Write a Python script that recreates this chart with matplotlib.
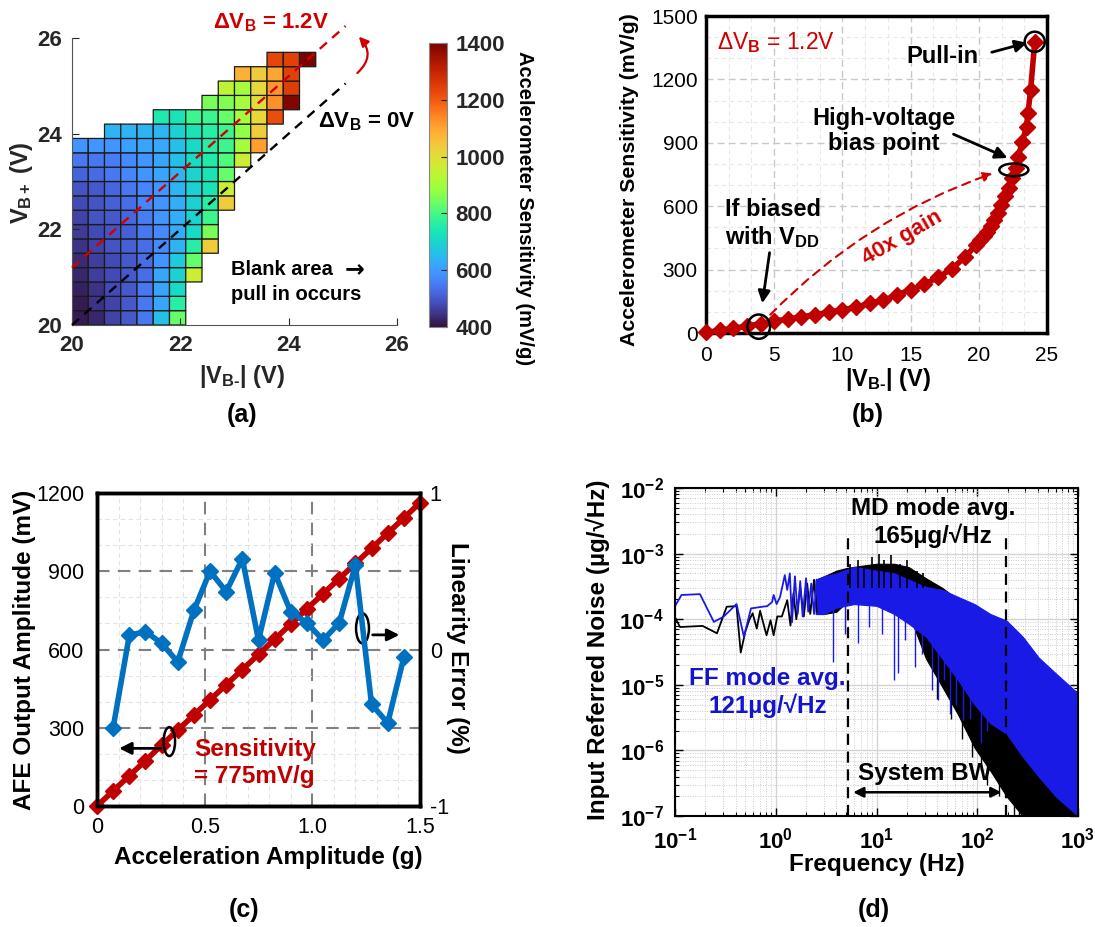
import matplotlib
matplotlib.use("Agg")
import matplotlib.pyplot as plt
import numpy as np
from matplotlib.patches import Ellipse, FancyArrowPatch
from matplotlib.ticker import LogLocator, MultipleLocator, NullFormatter

plt.rcParams["font.family"] = ["Liberation Sans", "DejaVu Sans"]
plt.rcParams["mathtext.fontset"] = "custom"
plt.rcParams["mathtext.rm"] = "Liberation Sans"
plt.rcParams["mathtext.bf"] = "Liberation Sans:bold"
plt.rcParams["mathtext.it"] = "Liberation Sans:italic"

N = np.nan

# ---- (a) sensitivity map, 0.3 V cells ----
VBN_EDGES = [20.0, 20.3, 20.6, 20.9, 21.2, 21.5, 21.8, 22.1, 22.4, 22.7,
             23.0, 23.3, 23.6, 23.9, 24.2, 24.5]
VBP_EDGES = [20.0, 20.3, 20.6, 20.9, 21.2, 21.5, 21.8, 22.1, 22.4, 22.7,
             23.0, 23.3, 23.6, 23.9, 24.2, 24.5, 24.8, 25.1, 25.4, 25.7]
SENS_MAP = [
    [415, 430, 470, 500, 545, 660, 830, N, N, N, N, N, N, N, N],
    [415, 445, 470, 500, 545, 615, 760, N, N, N, N, N, N, N, N],
    [420, 445, 480, 500, 545, 615, 710, N, N, N, N, N, N, N, N],
    [430, 460, 480, 500, 530, 615, 690, 960, N, N, N, N, N, N, N],
    [435, 460, 480, 500, 530, 590, 680, 830, N, N, N, N, N, N, N],
    [445, 470, 490, 510, 530, 575, 640, 760, 1030, N, N, N, N, N, N],
    [455, 480, 490, 510, 545, 575, 630, 710, 850, N, N, N, N, N, N],
    [470, 490, 500, 520, 555, 590, 630, 700, 790, N, N, N, N, N, N],
    [480, 490, 510, 530, 565, 590, 630, 690, 760, 1030, N, N, N, N, N],
    [490, 500, 520, 545, 565, 590, 640, 690, 735, 960, N, N, N, N, N],
    [515, 525, 545, 565, 590, 615, 640, 700, 735, 830, N, N, N, N, N],
    [545, 545, 555, 575, 590, 615, 660, 710, 750, 810, 960, N, N, N, N],
    [590, 590, 590, 610, 615, 620, 660, 710, 760, 790, 900, 1110, N, N, N],
    [N, N, 640, 640, 640, 645, 690, 735, 760, 790, 880, 1030, N, N, N],
    [N, N, N, N, N, 745, 735, 790, 790, 830, 900, 1010, 1220, N, N],
    [N, N, N, N, N, N, N, N, 850, 860, 900, 1000, 1130, 1390, N],
    [N, N, N, N, N, N, N, N, N, 940, 900, 1010, 1120, 1250, N],
    [N, N, N, N, N, N, N, N, N, N, 1080, 1040, 1100, 1240, N],
    [N, N, N, N, N, N, N, N, N, N, N, N, 1230, 1240, 1400],
]
DVB_OFFSETS = [0.0, 1.2]
DIAG_X = [20.0, 25.05]
CBAR_TICKS = [400, 600, 800, 1000, 1200, 1400]

# ---- (b) sensitivity vs |VB-| ----
VBN_B = [0, 1, 2, 3, 4, 5, 6, 7, 8, 9, 10, 11, 12, 13, 14, 15, 16, 17, 18, 19,
         19.8, 20.1, 20.4, 20.6, 20.9, 21.1, 21.4, 21.6, 21.9, 22.2, 22.4, 22.7,
         22.9, 23.2, 23.5, 23.6, 23.8, 24.1]
SENS_B = [3, 12, 22, 33, 44, 56, 66, 76, 87, 98, 110, 122, 140, 155, 180, 205,
          230, 263, 302, 360, 417, 441, 460, 480, 504, 535, 567, 606, 646, 685,
          732, 780, 835, 906, 976, 1039, 1150, 1378]

# ---- (c) AFE output and linearity ----
ACC_G = [0, 0.075, 0.15, 0.225, 0.3, 0.375, 0.45, 0.525, 0.6, 0.675, 0.75,
         0.825, 0.9, 0.975, 1.05, 1.125, 1.2, 1.275, 1.35, 1.425, 1.5]
AFE_MV = [0, 58, 116, 174, 233, 291, 349, 407, 465, 523, 581, 639, 698, 756,
          814, 872, 930, 988, 1046, 1104, 1163]
LIN_ACC = [0.075, 0.15, 0.225, 0.3, 0.375, 0.45, 0.525, 0.6, 0.675, 0.75,
           0.825, 0.9, 0.975, 1.05, 1.125, 1.2, 1.275, 1.35, 1.425]
LIN_ERR = [-0.50, 0.09, 0.115, 0.04, -0.08, 0.25, 0.50, 0.37, 0.58, 0.06,
           0.49, 0.24, 0.17, 0.06, 0.17, 0.54, -0.35, -0.47, -0.05]

# ---- (d) input referred noise ----
BLACK_LOW_F = [0.1, 0.112, 0.188, 0.261, 0.326, 0.408, 0.449, 0.498, 0.548,
               0.59, 0.648, 0.699, 0.754, 0.81, 0.888, 0.953, 1.035, 1.15, 1.3,
               1.4, 1.5, 1.6, 1.75, 1.9, 2.05, 2.2, 2.4, 2.55]
BLACK_LOW_N = [1.07e-4, 7.6e-5, 7.9e-5, 6.1e-5, 1.55e-4, 1.58e-4, 3.1e-5,
               6.4e-5, 9.9e-5, 1.23e-4, 7.2e-5, 1.34e-4, 8.6e-5, 5.7e-5,
               9.6e-5, 5.7e-5, 1.1e-4, 1.1e-4, 1.95e-4,
               8e-5, 2.5e-4, 1e-4, 3e-4, 1.1e-4, 3.5e-4, 1.2e-4, 4e-4, 1.3e-4]
BLUE_LOW_F = [0.1, 0.116, 0.177, 0.243, 0.303, 0.408, 0.483, 0.568, 0.737,
              0.823, 0.92, 0.953, 1.02, 1.105, 1.23, 1.3, 1.38, 1.45, 1.55,
              1.65, 1.75, 1.85, 2.0, 2.1, 2.25, 2.4, 2.55]
BLUE_LOW_N = [1.58e-4, 2.34e-4, 2.41e-4, 9.1e-5, 1.09e-4, 1.7e-4, 5.4e-5,
              1.46e-4, 1.55e-4, 1.58e-4, 1.83e-4, 2.34e-4, 1.7e-4, 2.2e-4,
              4.7e-4, 2.8e-4, 5e-4, 9e-5, 4.5e-4, 1.2e-4, 3.8e-4, 1.1e-4,
              4.2e-4, 1.3e-4, 3.5e-4, 1.2e-4, 4e-4]

BLACK_BAND_F = [2.5, 3.0, 4.0, 5.0, 7.0, 10, 15, 21, 31, 45, 64, 94, 135,
                195, 283, 407, 600, 1000]
BLACK_BAND_HI = [4e-4, 4.5e-4, 5.5e-4, 6e-4, 6.5e-4, 7e-4, 7e-4, 6.2e-4,
                 4.2e-4, 3e-4, 2e-4, 1.4e-4, 1e-4, 6e-5, 3.5e-5, 1.8e-5, 9e-6,
                 4e-6]
BLACK_BAND_LO = [1.2e-4, 1.2e-4, 1.3e-4, 1.8e-4, 2e-4, 2e-4, 1.8e-4, 1.2e-4,
                 2.5e-5, 9.3e-6, 3.6e-6, 1.1e-6, 4.9e-7, 2e-7, 1e-7,
                 6e-8, 4e-8, 2e-8]
BLACK_UP_F = [5.5, 6.5, 7.5, 9, 10.5, 12, 14, 17, 20, 25, 29]
BLACK_UP_HI = [7e-4, 8e-4, 6.5e-4, 9e-4, 1e-3, 8e-4, 9.5e-4, 7e-4, 8e-4,
               5.5e-4, 5e-4]
BLUE_BAND_F = [2.5, 3.0, 4.0, 6.0, 10, 15, 21, 31, 45, 64, 94, 135, 195,
               283, 407, 600, 1000]
BLUE_BAND_HI = [4e-4, 4.5e-4, 5e-4, 6.3e-4, 5.5e-4, 5e-4, 4e-4, 3.1e-4,
                2.8e-4, 2.2e-4, 1.7e-4, 1.2e-4, 9.5e-5, 5.4e-5, 2.6e-5,
                1.5e-5, 7.4e-6]
BLUE_BAND_LO = [1.2e-4, 1.2e-4, 1.5e-4, 1.7e-4, 1.6e-4, 1.2e-4, 8.5e-5,
                5.4e-5, 2.5e-5, 1.2e-5, 5e-6, 2.6e-6, 1.8e-6, 8e-7, 4e-7,
                2e-7, 1e-7]
BLUE_SPIKE_F = [3.7, 4.9, 6.5, 8.5, 11.4, 14.8, 16.5, 19, 23.9, 28, 35.8, 41,
                47, 53.8, 62, 72, 85, 109, 125]
BLUE_SPIKE_LO = [2.2e-5, 6e-5, 4.3e-5, 7.6e-5, 6e-5, 1.2e-5, 1.5e-5, 4.8e-5,
                 1.9e-5, 3e-5, 8.3e-6, 5.8e-6, 1.2e-5, 3.6e-6, 5e-6, 2.9e-6,
                 3e-6, 1.3e-6, 2e-6]
BLUE_SPIKE_HI = [2e-4, 2e-4, 2e-4, 2e-4, 2e-4, 1.5e-4, 1.5e-4, 1.2e-4, 1e-4,
                 8e-5, 6e-5, 5e-5, 4e-5, 3e-5, 2e-5, 1.5e-5, 1e-5, 8e-6, 5e-6]
BLACK_SPIKE_F = [40, 55, 70, 88, 110, 125, 150, 165, 230, 260, 300]
BLACK_SPIKE_LO = [6e-6, 3e-6, 1.5e-6, 8e-7, 5e-7, 3e-7, 4.5e-7, 2e-7, 1e-7,
                  1e-7, 1e-7]
BLACK_SPIKE_HI = [3e-5, 1e-5, 5e-6, 2e-6, 1.5e-6, 1e-6, 8e-7, 6e-7, 4e-7,
                  3e-7, 2e-7]
BW_EDGES = [5.2, 195]
BW_TOP = 1.8e-3

W, H = 1095, 927
RED = "#c00000"
BLUE_C = "#0070c0"
BLUE_D = "#1a1ae6"
AX_GRAY = "#262626"
VBN_LABEL = r"|V$_{\mathbf{B‐}}$| (V)"

fig = plt.figure(figsize=(W / 100, H / 100), dpi=100, facecolor="white")


def px_axes(left, top, right, bottom):
    return fig.add_axes([left / W, 1 - bottom / H, (right - left) / W, (bottom - top) / H])


def center_label(axis, x, y):
    axis.set_label_coords(x, y)
    axis.label.set_va("center")
    axis.label.set_ha("center")


# ================= (a) =================
ax_a = px_axes(72, 38, 397, 325)
mesh = ax_a.pcolor(VBN_EDGES, VBP_EDGES, np.ma.masked_invalid(np.array(SENS_MAP, float)),
                   cmap="turbo", vmin=400, vmax=1400, edgecolors="#1a1a1a", linewidth=0.9)
for off, col in zip(DVB_OFFSETS, ["k", "#d00000"]):
    ax_a.plot(DIAG_X, [x + off for x in DIAG_X], color=col, lw=1.7,
              ls=(0, (4, 3)), clip_on=False, zorder=4)
ax_a.set_xlim(20, 26)
ax_a.set_ylim(20, 26)
for s in ["top", "right"]:
    ax_a.spines[s].set_visible(False)
for s in ["left", "bottom"]:
    ax_a.spines[s].set_color("#555555")
ax_a.set_xticks([20, 22, 24, 26], ["20", "22", "24", "26"], fontweight="bold")
ax_a.set_yticks([20, 22, 24, 26], ["20", "22", "24", "26"], fontweight="bold")
ax_a.tick_params(direction="in", length=5, colors=AX_GRAY, labelsize=16, pad=7)
ax_a.set_xlabel(VBN_LABEL, fontsize=17, fontweight="bold", color=AX_GRAY)
ax_a.set_ylabel(r"V$_{\mathbf{B+}}$ (V)", fontsize=17, fontweight="bold", color=AX_GRAY)
center_label(ax_a.xaxis, 0.523, -0.181)
center_label(ax_a.yaxis, -0.154, 0.495)
ax_a.text(0.612, 1.052, r"ΔV$_{\mathbf{B}}$ = 1.2V", transform=ax_a.transAxes, color="#d00000",
          fontsize=16, fontweight="bold", ha="center", va="center")
ax_a.text(0.908, 0.707, r"ΔV$_{\mathbf{B}}$ = 0V", transform=ax_a.transAxes, color="black",
          fontsize=16, fontweight="bold", ha="center", va="center")
ax_a.text(0.489, 0.194, "Blank area", transform=ax_a.transAxes,
          fontsize=14.5, fontweight="bold", ha="left", va="center")
ax_a.text(0.489, 0.105, "pull in occurs", transform=ax_a.transAxes,
          fontsize=14.5, fontweight="bold", ha="left", va="center")
ax_a.text(0.84, 0.196, "→", transform=ax_a.transAxes, family="DejaVu Sans",
          fontsize=17, fontweight="bold", ha="left", va="center")
ax_a.add_patch(FancyArrowPatch((25.23, 25.23), (25.26, 26.07), connectionstyle="arc3,rad=0.55",
                               arrowstyle="-|>", mutation_scale=14, color="#d00000", lw=1.6,
                               clip_on=False))

cax = px_axes(429, 43, 447, 327)
cb = fig.colorbar(mesh, cax=cax, ticks=CBAR_TICKS)
cb.outline.set_edgecolor("#888888")
cb.outline.set_linewidth(0.8)
cax.set_yticks(CBAR_TICKS, [str(t) for t in CBAR_TICKS], fontweight="bold")
cax.tick_params(direction="in", length=4, colors=AX_GRAY, labelsize=16, pad=6)
cax.set_ylabel("Accelerometer Sensitivity (mV/g)", rotation=270, fontsize=14.5,
               fontweight="bold", color="black")
center_label(cax.yaxis, 5.28, 0.419)

# ================= (b) =================
ax_b = px_axes(706, 16, 1047, 333)
ax_b.set_axisbelow(True)
ax_b.plot(VBN_B, SENS_B, color=RED, lw=4, marker="D", ms=8, mec=RED, clip_on=False, zorder=3)
ax_b.set_xlim(0, 25)
ax_b.set_ylim(0, 1500)
ax_b.set_xticks([0, 5, 10, 15, 20, 25])
ax_b.set_yticks([0, 300, 600, 900, 1200, 1500])
ax_b.xaxis.set_minor_locator(MultipleLocator(5 / 3))
ax_b.yaxis.set_minor_locator(MultipleLocator(100))
ax_b.grid(True, which="major", color="#c8c8c8", lw=1, ls=(0, (5, 3)))
ax_b.grid(True, which="minor", color="#e8e8e8", lw=0.8, ls=(0, (4, 3)))
ax_b.tick_params(which="both", length=0, labelsize=15)
ax_b.tick_params(axis="x", pad=9)
ax_b.tick_params(axis="y", pad=6)
for s in ax_b.spines.values():
    s.set_linewidth(2.5)
ax_b.set_xlabel(VBN_LABEL, fontsize=17, fontweight="bold")
ax_b.set_ylabel("Accelerometer Sensitivity (mV/g)", fontsize=15.3, fontweight="bold")
center_label(ax_b.xaxis, 0.534, -0.148)
center_label(ax_b.yaxis, -0.223, 0.483)
ax_b.text(0.205, 0.915, r"ΔV$_{\mathbf{B}}$ = 1.2V", transform=ax_b.transAxes, color="#d00000",
          fontsize=16.5, family=["Liberation Sans Narrow", "Liberation Sans"], ha="center", va="center")
ax_b.text(0.692, 0.871, "Pull-in", transform=ax_b.transAxes, fontsize=17, fontweight="bold",
          ha="center", va="center")
ax_b.text(0.522, 0.637, "High-voltage\nbias point", transform=ax_b.transAxes, fontsize=17,
          fontweight="bold", ha="center", va="center", linespacing=1.15)
ax_b.text(0.196, 0.344, "If biased\nwith V$_{\\mathbf{DD}}$", transform=ax_b.transAxes, fontsize=17,
          fontweight="bold", ha="center", va="center", linespacing=1.15)
ax_b.text(0.576, 0.30, "40x gain", transform=ax_b.transAxes, fontsize=16, fontweight="bold",
          color="#d00000", ha="center", va="center", rotation=30)
arrow_kw = dict(arrowstyle="-|>", color="k", lw=2, mutation_scale=18)
ax_b.annotate("", xy=(23.75, 1377), xytext=(20.75, 1325), arrowprops=arrow_kw)
ax_b.annotate("", xy=(22.29, 823), xytext=(17.96, 946), arrowprops=arrow_kw)
ax_b.annotate("", xy=(4.1, 128), xytext=(4.69, 393), arrowprops=arrow_kw)
ax_b.add_patch(Ellipse((VBN_B[-1], SENS_B[-1]), 1.47, 95, fill=False, ec="k", lw=1.8,
                       clip_on=False, zorder=5))
ax_b.add_patch(Ellipse((22.57, 772), 2.13, 60, fill=False, ec="k", lw=1.8, zorder=5))
ax_b.add_patch(Ellipse((3.87, 30), 1.65, 115, fill=False, ec="k", lw=1.8, clip_on=False, zorder=5))
ax_b.add_patch(FancyArrowPatch((4.57, 77), (21.2, 759), connectionstyle="arc3,rad=-0.12",
                               arrowstyle="-|>", mutation_scale=14, color="#d00000", lw=1.5,
                               ls=(0, (4, 3)), zorder=4))

# ================= (c) =================
ax_c = px_axes(97, 493, 420, 806)
ax_c.set_axisbelow(True)
ax_c.plot(ACC_G, AFE_MV, color=RED, lw=4, marker="D", ms=8, mec=RED, clip_on=False, zorder=3)
ax_c.set_xlim(0, 1.5)
ax_c.set_ylim(0, 1200)
ax_c.set_xticks([0, 0.5, 1.0, 1.5], ["0", "0.5", "1.0", "1.5"])
ax_c.set_yticks([0, 300, 600, 900, 1200])
ax_c.xaxis.set_minor_locator(MultipleLocator(0.1))
ax_c.yaxis.set_minor_locator(MultipleLocator(100))
ax_c.grid(True, which="major", color="#808080", lw=1.5, ls=(0, (6, 4)))
ax_c.grid(True, which="minor", color="#e3e3e3", lw=0.8, ls=(0, (4, 3)))
ax_c.tick_params(which="both", length=0, labelsize=15.5)
ax_c.tick_params(axis="x", pad=8)
ax_c.tick_params(axis="y", pad=9)
for s in ax_c.spines.values():
    s.set_linewidth(2.5)
ax_c.set_xlabel("Acceleration Amplitude (g)", fontsize=17.5, fontweight="bold")
ax_c.set_ylabel("AFE Output Amplitude (mV)", fontsize=17.5, fontweight="bold")
center_label(ax_c.xaxis, 0.529, -0.163)
center_label(ax_c.yaxis, -0.223, 0.498)
ax_c.text(0.30, 0.137, "Sensitivity\n= 775mV/g", transform=ax_c.transAxes, fontsize=17.5,
          fontweight="bold", color=RED, ha="left", va="center", linespacing=1.2)
ax_c.add_patch(Ellipse((0.336, 247), 0.053, 111, fill=False, ec="k", lw=1.8, zorder=5))
ax_c.add_patch(Ellipse((1.233, 681), 0.06, 115, fill=False, ec="k", lw=1.8, zorder=5))
ax_c.annotate("", xy=(0.09, 221), xytext=(0.31, 221), arrowprops=arrow_kw)
ax_c.annotate("", xy=(1.417, 656), xytext=(1.267, 656), arrowprops=arrow_kw)

ax_c2 = ax_c.twinx()
ax_c2.plot(LIN_ACC, LIN_ERR, color=BLUE_C, lw=4, marker="D", ms=8, mec=BLUE_C, zorder=3)
ax_c2.set_ylim(-1, 1)
ax_c2.set_yticks([-1, 0, 1], ["-1", "0", "1"])
ax_c2.tick_params(length=0, labelsize=15.5, pad=7)
for s in ax_c2.spines.values():
    s.set_linewidth(2.5)
ax_c2.set_ylabel("Linearity Error (%)", fontsize=17.5, fontweight="bold", rotation=270)
center_label(ax_c2.yaxis, 1.115, 0.505)

# ================= (d) =================
ax_d = px_axes(675, 488, 1078, 816)
ax_d.set_xscale("log")
ax_d.set_yscale("log")
ax_d.set_axisbelow(True)
ax_d.plot(BLACK_LOW_F, BLACK_LOW_N, color="k", lw=1.3)
ax_d.fill_between(BLACK_BAND_F, BLACK_BAND_LO, BLACK_BAND_HI, color="k", lw=0.8)
ax_d.vlines(BLACK_UP_F, 3e-4, BLACK_UP_HI, colors="k", lw=1.2)
ax_d.vlines(BLACK_SPIKE_F, BLACK_SPIKE_LO, BLACK_SPIKE_HI, colors="k", lw=1)
ax_d.plot(BLUE_LOW_F, BLUE_LOW_N, color=BLUE_D, lw=1.3)
ax_d.fill_between(BLUE_BAND_F, BLUE_BAND_LO, BLUE_BAND_HI, color=BLUE_D, lw=0.8)
ax_d.vlines(BLUE_SPIKE_F, BLUE_SPIKE_LO, BLUE_SPIKE_HI, colors=BLUE_D, lw=1)
ax_d.vlines(BW_EDGES, 1e-7, BW_TOP, colors="k", lw=1.6, linestyles=(0, (5, 3)), zorder=4)
ax_d.annotate("", xy=(BW_EDGES[0] * 1.06, 2.3e-7), xytext=(BW_EDGES[1] * 0.95, 2.3e-7),
              arrowprops=dict(arrowstyle="<|-|>", color="k", lw=1.8, mutation_scale=15))
ax_d.set_xlim(0.1, 1000)
ax_d.set_ylim(1e-7, 1e-2)
x_dec = [0.1, 1, 10, 100, 1000]
y_dec = [1e-7, 1e-6, 1e-5, 1e-4, 1e-3, 1e-2]
ax_d.set_xticks(x_dec, [r"$\mathbf{10^{%d}}$" % e for e in [-1, 0, 1, 2, 3]])
ax_d.set_yticks(y_dec, [r"$\mathbf{10^{%d}}$" % e for e in [-7, -6, -5, -4, -3, -2]])
ax_d.xaxis.set_minor_locator(LogLocator(base=10, subs=range(2, 10), numticks=20))
ax_d.yaxis.set_minor_locator(LogLocator(base=10, subs=range(2, 10), numticks=20))
ax_d.xaxis.set_minor_formatter(NullFormatter())
ax_d.yaxis.set_minor_formatter(NullFormatter())
ax_d.grid(True, which="major", color="#d4d4d4", lw=1, ls="-")
ax_d.grid(True, which="minor", color="#cccccc", lw=0.7, ls=(0, (1, 1.5)))
ax_d.tick_params(which="both", direction="in", top=True, right=True, labelsize=16)
ax_d.tick_params(which="major", length=6, width=1)
ax_d.tick_params(which="minor", length=3, width=0.8)
ax_d.tick_params(axis="x", pad=8)
ax_d.tick_params(axis="y", pad=8)
for s in ax_d.spines.values():
    s.set_linewidth(1.5)
ax_d.set_xlabel("Frequency (Hz)", fontsize=17.5, fontweight="bold")
ax_d.set_ylabel("Input Referred Noise (µg/√Hz)", fontsize=17.5, fontweight="bold")
center_label(ax_d.xaxis, 0.5, -0.149)
center_label(ax_d.yaxis, -0.191, 0.506)
ax_d.text(0.64, 0.895, "MD mode avg.\n165µg/√Hz", transform=ax_d.transAxes, fontsize=17.5,
          fontweight="bold", ha="center", va="center", linespacing=1.2)
ax_d.text(0.23, 0.3765, "FF mode avg.\n121µg/√Hz", transform=ax_d.transAxes, fontsize=17.5,
          fontweight="bold", color="#1414cc", ha="center", va="center", linespacing=1.2)
ax_d.text(0.62, 0.131, "System BW", transform=ax_d.transAxes, fontsize=17.5,
          fontweight="bold", ha="center", va="center")

# panel tags
for tag, x, y in [("(a)", 242, 415), ("(b)", 868, 415), ("(c)", 244, 910), ("(d)", 874, 910)]:
    fig.text(x / W, 1 - y / H, tag, fontsize=18, fontweight="bold", ha="center", va="center")

fig.savefig("out.png", dpi=100)
